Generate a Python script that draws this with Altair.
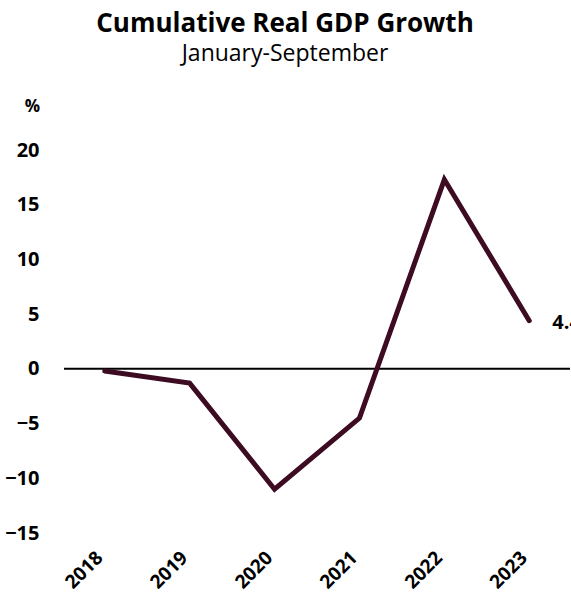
import altair as alt
import pandas as pd

years = ["2018", "2019", "2020", "2021", "2022", "2023"]
growth = [-0.2, -1.3, -11.0, -4.5, 17.3, 4.4]
y_ticks = [-15, -10, -5, 0, 5, 10, 15, 20]

df = pd.DataFrame({"year": years, "growth": growth})
last = df.tail(1)

FONT = "Open Sans"
COLOR = "#3d0b22"

x = alt.X("year:O", sort=years,
          scale=alt.Scale(type="point", padding=0.48),
          axis=alt.Axis(title=None, labelAngle=-45, labelFontSize=19, labelFontWeight="bold",
                        labelFont=FONT, labelColor="black", domain=False, ticks=False,
                        labelPadding=15, labelOffset=-12))
y = alt.Y("growth:Q", scale=alt.Scale(domain=[-15, 20], nice=False, zero=False),
          axis=alt.Axis(title="%", titleAngle=0, titleAlign="center", titleBaseline="middle",
                        titleX=-32, titleY=-44, titleFontSize=17, titleFontWeight="bold",
                        titleFont=FONT, titleColor="black",
                        values=y_ticks, labelFontSize=20, labelFontWeight="bold",
                        labelFont=FONT, labelColor="black", domain=False, ticks=False,
                        grid=False, labelPadding=25))

zero = alt.Chart(pd.DataFrame({"z": [0]})).mark_rule(color="black", strokeWidth=2).encode(y="z:Q")

line = alt.Chart(df).mark_line(color=COLOR, strokeWidth=5, strokeCap="round",
                               strokeJoin="miter").encode(x=x, y=y)

label = alt.Chart(last).mark_text(align="left", baseline="middle", dx=23, dy=2,
                                  fontSize=20, fontWeight="bold", font=FONT,
                                  color="black").encode(
    x=alt.X("year:O", sort=years), y="growth:Q", text=alt.Text("growth:Q", format=".1f"))

chart = alt.layer(zero, line, label).properties(
    width=506, height=383,
    background="white",
    title=alt.TitleParams("Cumulative Real GDP Growth", subtitle="January-September",
                          font=FONT, fontSize=26, fontWeight="bold", color="black",
                          subtitleFont=FONT, subtitleFontSize=23, subtitleColor="black",
                          anchor="middle", dx=-32, offset=31, subtitlePadding=6),
    autosize=alt.AutoSizeParams(type="none"),
    padding={"left": 64, "top": 150, "right": 1, "bottom": 73},
).configure_view(strokeOpacity=0, strokeWidth=0)

chart.save("out.html", embed_options={"renderer": "svg", "actions": False})
